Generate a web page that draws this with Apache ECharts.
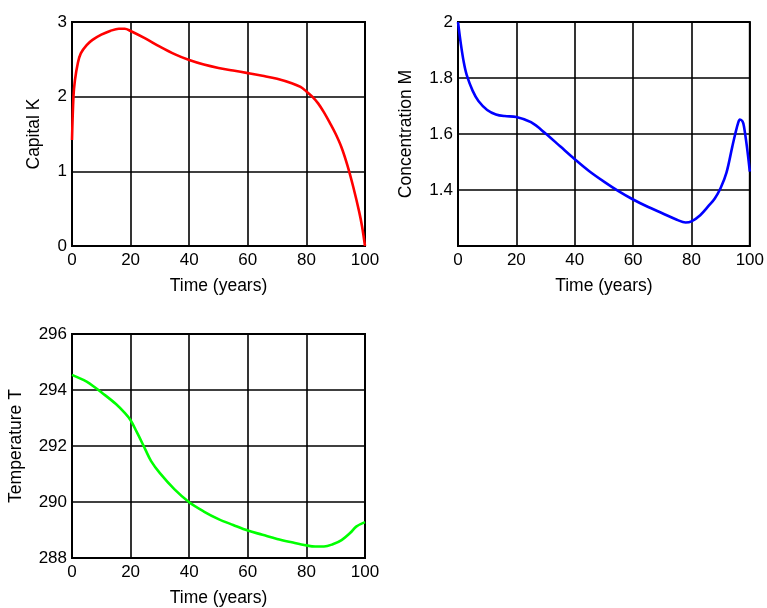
<!DOCTYPE html>
<html>
<head>
<meta charset="utf-8">
<script src="https://cdn.jsdelivr.net/npm/echarts@6/dist/echarts.min.js"></script>
<style>
html,body{margin:0;padding:0;background:#fff;}
#c{width:767px;height:608px;}
</style>
</head>
<body>
<div id="c"></div>
<script>
var timeK = [0,0.5,1,2,3,5,7,10,13,16,18,20,25,30,35,40,45,50,55,60,65,70,75,78,80,82,84,86,88,90,92,94,96,98,99,100];
var capitalK = [1.42,2.0,2.22,2.45,2.58,2.69,2.76,2.83,2.88,2.91,2.91,2.88,2.78,2.67,2.57,2.49,2.43,2.385,2.35,2.315,2.28,2.24,2.18,2.13,2.07,2.0,1.91,1.79,1.65,1.50,1.32,1.08,0.79,0.46,0.26,0];

var timeM = [0,1,2,3,5,7,10,13,16,20,25,30,35,40,45,50,55,60,65,70,75,78,80,83,86,88,90,92,94,95,96,96.6,97.5,98,99,100];
var concM = [2.0,1.92,1.855,1.81,1.755,1.718,1.686,1.67,1.664,1.661,1.642,1.602,1.556,1.51,1.467,1.43,1.396,1.366,1.34,1.317,1.294,1.284,1.288,1.31,1.345,1.37,1.407,1.462,1.555,1.60,1.64,1.652,1.645,1.627,1.555,1.466];

var timeT = [0,5,8,10,15,18,20,22,24,25,27,30,35,40,45,50,55,60,65,70,75,80,83,86,89,92,95,97,100];
var tempT = [294.54,294.30,294.08,293.92,293.50,293.18,292.92,292.52,292.10,291.88,291.46,291.03,290.45,289.99,289.66,289.39,289.18,288.98,288.83,288.68,288.56,288.45,288.41,288.41,288.49,288.64,288.90,289.12,289.28];

var xTicks = [0,20,40,60,80,100];

function pairs(xs, ys){ return xs.map(function(x,i){ return [x, ys[i]]; }); }

var FONT = '"Liberation Sans", Arial, sans-serif';
var labelStyle = {color:'#000', fontSize:17, fontFamily:FONT};
var nameStyle = {color:'#000', fontSize:17.5, fontFamily:FONT};

function xAxis(gi){
  return {
    type:'value', gridIndex:gi, min:xTicks[0], max:xTicks[xTicks.length-1], interval:20,
    name:'Time (years)', nameLocation:'middle', nameGap:31, nameTextStyle:nameStyle,
    axisLine:{show:true, lineStyle:{color:'#000', width:2}},
    axisTick:{show:false},
    axisLabel:Object.assign({margin:6}, labelStyle),
    splitLine:{show:true, lineStyle:{color:'#000', width:1.6}}
  };
}
function yAxis(gi, min, max, interval, name, gap, fmt){
  return {
    type:'value', gridIndex:gi, min:min, max:max, interval:interval,
    name:name, nameLocation:'middle', nameGap:gap, nameTextStyle:nameStyle,
    axisLine:{show:true, lineStyle:{color:'#000', width:2}},
    axisTick:{show:false},
    axisLabel:Object.assign({margin:5, formatter:fmt}, labelStyle),
    splitLine:{show:true, lineStyle:{color:'#000', width:1.6}}
  };
}
function lineSeries(gi, data, color){
  return {
    type:'line', xAxisIndex:gi, yAxisIndex:gi, data:data,
    showSymbol:false, smooth:0.35,
    lineStyle:{color:color, width:2.6}, z:5
  };
}

var chart = echarts.init(document.getElementById('c'));
chart.setOption({
  animation:false,
  backgroundColor:'#fff',
  grid:[
    {left:72, top:22, width:293, height:224, show:true, borderColor:'#000', borderWidth:2, backgroundColor:'#fff'},
    {left:458, top:22, width:294, height:224, show:true, borderColor:'#000', borderWidth:2, backgroundColor:'#fff'},
    {left:72, top:334, width:293, height:224, show:true, borderColor:'#000', borderWidth:2, backgroundColor:'#fff'}
  ],
  xAxis:[xAxis(0), xAxis(1), xAxis(2)],
  yAxis:[
    yAxis(0, 0, 3, 1, 'Capital K', 29),
    yAxis(1, 1.2, 2, 0.2, 'Concentration M', 43, function(v){ return Math.abs(v-1.2)<1e-6 ? '' : String(Math.round(v*10)/10); }),
    yAxis(2, 288, 296, 2, 'Temperature T', 47)
  ],
  series:[
    lineSeries(0, pairs(timeK, capitalK), '#ff0000'),
    lineSeries(1, pairs(timeM, concM), '#0000ff'),
    lineSeries(2, pairs(timeT, tempT), '#00ff00')
  ]
});
</script>
</body>
</html>
